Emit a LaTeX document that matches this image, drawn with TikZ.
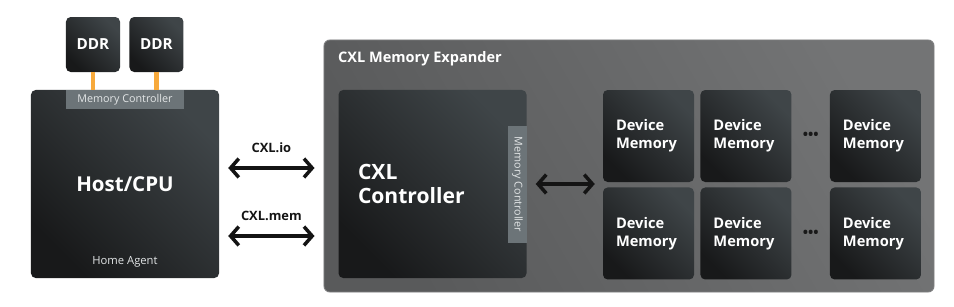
\documentclass[tikz,border=0pt]{standalone}
\usepackage{fontspec}
\setmainfont{Open Sans}
\usetikzlibrary{arrows.meta, positioning, calc}
\definecolor{chipdark}{HTML}{18191A}
\definecolor{chiplight}{HTML}{3F4548}
\definecolor{boardlo}{HTML}{595A5B}
\definecolor{boardhi}{HTML}{737475}
\definecolor{boardedge}{HTML}{7E7F80}
\definecolor{tabgray}{HTML}{6C7478}
\definecolor{tabtext}{HTML}{E2E5E6}
\definecolor{wire}{HTML}{F7A93B}
\begin{document}
\begin{tikzpicture}[
  x=0.03cm, y=-0.03cm,
  chip/.style={rounded corners=4pt, bottom color=chipdark,
               middle color=chipdark!85!chiplight, top color=chiplight,
               shading angle=-45, text=white, inner sep=0pt},
  board/.style={rounded corners=5pt, draw=boardedge, line width=0.8pt,
                bottom color=boardlo, top color=boardhi, shading angle=-60},
  tab/.style={fill=tabgray, text=tabtext, inner sep=0pt,
              minimum width=3.51cm, minimum height=0.57cm,
              font=\fontsize{9.2}{11}\selectfont},
  memchip/.style={chip, minimum width=2.73cm, minimum height=2.76cm,
                  text width=1.95cm, align=left,
                  font=\bfseries\fontsize{12.5}{15.4}\selectfont},
  link/.style={{Straight Barb[length=7pt,width=16pt]}-{Straight Barb[length=7pt,width=16pt]},
               line width=3pt, color=black!92},
  tag/.style={inner sep=0pt, font=\bfseries\fontsize{11}{13}\selectfont},
  dotrow/.style={font=\bfseries\fontsize{12}{13}\selectfont, text=black!90, inner sep=0pt}
]
  \useasboundingbox (0,0) rectangle (954,306);

  % host side
  \node[chip, minimum width=1.62cm, minimum height=1.65cm,
    font=\bfseries\fontsize{13}{15}\selectfont] (ddrA) at (93,44.5) {DDR};
  \node[chip, minimum width=1.62cm, minimum height=1.65cm,
    font=\bfseries\fontsize{13}{15}\selectfont, right=0.27cm of ddrA] (ddrB) {DDR};
  \node[chip, minimum size=5.64cm,
    font=\bfseries\fontsize{17.5}{21}\selectfont] (host) at (125,184) {Host/CPU};
  \draw[wire, line width=4pt] (ddrA.south) -- (ddrA.south |- host.north);
  \draw[wire, line width=4pt] (ddrB.south) -- (ddrB.south |- host.north);
  \node[tab, anchor=north] (hostmc) at (host.north) {Memory Controller};
  \node[text=tabtext, font=\fontsize{9.6}{12}\selectfont]
    (homeagent) at ([yshift=0.48cm]host.south) {Home Agent};

  % expander
  \node[board, minimum width=18.3cm, minimum height=7.56cm] (exp) at (629,166) {};
  \node[anchor=west, text=white, inner sep=0pt,
    font=\bfseries\fontsize{12.4}{14}\selectfont] (explabel) at (338,59) {CXL Memory Expander};
  \node[chip, minimum size=5.64cm, text width=4.47cm, align=left,
    font=\bfseries\fontsize{18}{21}\selectfont] (ctrl) at (432.5,184) {CXL\\Controller};
  \node[tab, rotate=-90] (ctrlmc) at (517.5,184.5) {Memory Controller};

  \node[memchip] (memA) at (648.5,136) {Device\\Memory};
  \node[memchip, right=0.18cm of memA] (memB) {Device\\Memory};
  \node[memchip, right=1.14cm of memB] (memC) {Device\\Memory};
  \node[memchip, below=0.15cm of memA] (memD) {Device\\Memory};
  \node[memchip, right=0.18cm of memD] (memE) {Device\\Memory};
  \node[memchip, right=1.14cm of memE] (memF) {Device\\Memory};
  \node[dotrow] (dotsA) at ($(memB.east)!0.5!(memC.west)$) {•••};
  \node[dotrow] (dotsB) at ($(memE.east)!0.5!(memF.west)$) {•••};

  % links
  \coordinate (io) at (0,168);
  \coordinate (mem) at (0,236);
  \draw[link, shorten <=0.27cm, shorten >=0.27cm] (host.east |- io) --
    node[tag, above=0.42cm] (iolabel) {CXL.io} (exp.west |- io);
  \draw[link, shorten <=0.27cm, shorten >=0.27cm] (host.east |- mem) --
    node[tag, above=0.42cm] (memlabel) {CXL.mem} (exp.west |- mem);
  \draw[link, shorten <=0.27cm, shorten >=0.24cm] (ctrl.east) -- (ctrl.east -| memA.west);
\end{tikzpicture}
\end{document}
